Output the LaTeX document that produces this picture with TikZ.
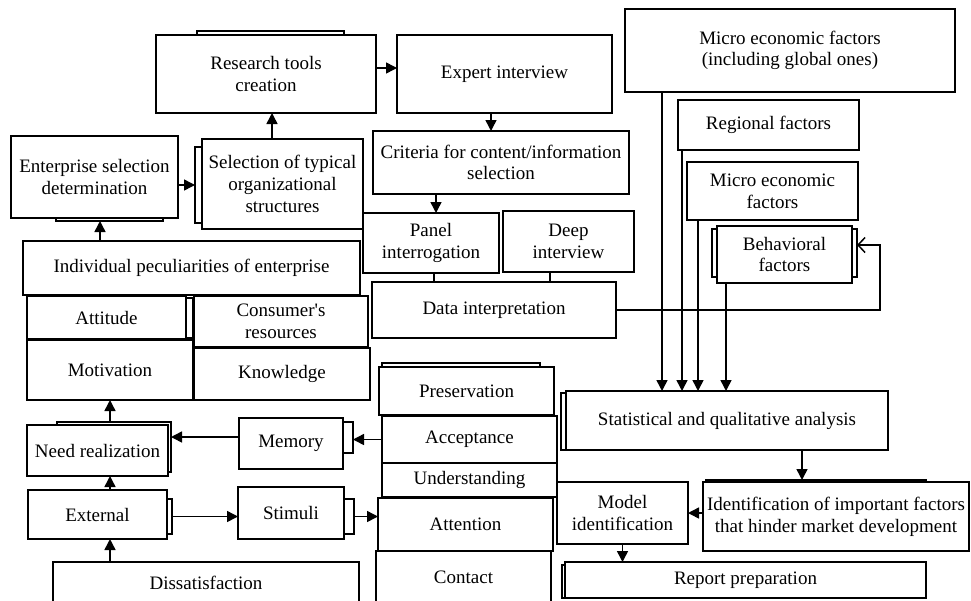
\documentclass[tikz,border=0pt]{standalone}
\usepackage{fontspec}
\setmainfont{Liberation Serif}
\usetikzlibrary{shapes,arrows.meta}
\usetikzlibrary{positioning}

\begin{document}
\begin{tikzpicture}[x=1pt,y=-1pt,
    every node/.style={font=\fontsize{19}{21.7}\selectfont,align=center,inner sep=1pt,outer sep=0pt},
    blk/.style={draw,line width=1.6pt,fill=white},
    bk/.style={draw,line width=1.3pt,fill=white},
    arr/.style={line width=1.5pt,-{Triangle[length=11pt,width=11pt]}},
    lnk/.style={line width=1.5pt}]
    \clip (0,0) rectangle (971,600);
    \fill[white] (0,0) rectangle (971,600);

    % upper left: research design
    \node[bk,minimum width=147,minimum height=14] (researchbk) at (270.5,38) {};
    \node[blk,minimum width=220,minimum height=78] (research) at (266,74) {Research tools\\creation};
    \node[blk,minimum width=215,minimum height=78] (expert) at (504.5,74) {Expert interview};
    \node[bk,minimum width=107,minimum height=16] (entbk) at (109.5,213) {};
    \node[blk,minimum width=167,minimum height=82] (enterprise) at (94.5,177) {Enterprise selection\\determination};
    \node[bk,minimum width=20,minimum height=76] (selbk) at (205,185) {};
    \node[blk,minimum width=161,minimum height=90] (selection) at (282.5,184) {Selection of typical\\organizational\\structures};
    \node[blk,minimum width=337,minimum height=54] (individual) at (191.5,268) {Individual peculiarities of enterprise};
    \node[blk,minimum width=256,minimum height=63] (criteria) at (501,162.5) {Criteria for content/information\\selection};
    \node[blk,minimum width=136,minimum height=60] (panel) at (431,243) {Panel\\interrogation};
    \node[blk,minimum width=131,minimum height=61] (deep) at (568.5,241.5) {Deep\\interview};
    \node[blk,minimum width=244,minimum height=56] (data) at (494,310) {Data interpretation};

    % factors
    \node[blk,minimum width=330,minimum height=83] (microglobal) at (790,50.5) {Micro economic factors\\(including global ones)};
    \node[blk,minimum width=181,minimum height=50] (regional) at (768.5,125) {Regional factors};
    \node[blk,minimum width=171,minimum height=58] (microeco) at (772.5,191) {Micro economic\\factors};
    \node[bk,minimum width=145,minimum height=48] (behbk) at (784.5,253) {};
    \node[blk,minimum width=135,minimum height=57] (behavioral) at (784.5,254.5) {Behavioral\\factors};
    \node[bk,minimum width=14,minimum height=57] (statbk) at (568,421.5) {};
    \node[blk,minimum width=322,minimum height=59] (statistical) at (727,420.5) {Statistical and qualitative analysis};
    \node[bk,minimum width=220,minimum height=15] (identbk) at (816,487.5) {};
    \node[blk,minimum width=266,minimum height=69] (identification) at (836,516.5) {Identification of important factors\\that hinder market development};
    \node[blk,minimum width=131,minimum height=62] (model) at (622.5,513) {Model\\identification};
    \node[bk,minimum width=13,minimum height=33] (reportbk) at (568.5,581.5) {};
    \node[blk,minimum width=361,minimum height=36] (report) at (745.5,580) {Report preparation};

    % consumer side
    \node[bk,minimum width=13,minimum height=40] (attbk) at (186.5,318) {};
    \node[blk,minimum width=159,minimum height=43] (attitude) at (106.5,317.5) {Attitude};
    \node[blk,minimum width=174,minimum height=51] (consumer) at (281,321.5) {Consumer\textquotesingle s\\resources};
    \node[blk,minimum width=166,minimum height=60] (motivation) at (110,370) {Motivation};
    \node[blk,minimum width=176,minimum height=52] (knowledge) at (282,374) {Knowledge};
    \node[bk,minimum width=114,minimum height=50] (needbk) at (114,447) {};
    \node[blk,minimum width=141,minimum height=51] (need) at (97.5,450.5) {Need realization};
    \node[bk,minimum width=18,minimum height=31] (memorybk) at (344,437.5) {};
    \node[blk,minimum width=104,minimum height=51] (memory) at (291,443.5) {Memory};
    \node[bk,minimum width=12,minimum height=35] (extbk) at (166,516.5) {};
    \node[blk,minimum width=139,minimum height=49] (external) at (97.5,514.5) {External};
    \node[bk,minimum width=19,minimum height=35] (stimbk) at (344.5,516.5) {};
    \node[blk,minimum width=106,minimum height=52] (stimuli) at (291,513) {Stimuli};
    \node[blk,minimum width=306,minimum height=42] (diss) at (206,583) {Dissatisfaction};

    % stack of stages
    \node[bk,minimum width=158,minimum height=12] (presbk) at (461,369) {};
    \node[blk,minimum width=175,minimum height=48] (preservation) at (466.5,391) {Preservation};
    \node[blk,minimum width=175,minimum height=47] (acceptance) at (469.5,439.5) {Acceptance};
    \node[blk,minimum width=175,minimum height=34] (understanding) at (469.5,480) {Understanding};
    \node[blk,minimum width=175,minimum height=53] (attention) at (465.5,524.5) {Attention};
    \node[blk,minimum width=175,minimum height=53] (contact) at (463.5,577.5) {Contact};

    % connectors
    \draw[arr] ([yshift=6pt]research.east) -- ([yshift=6pt]research.east -| expert.west);
    \draw[arr] ([xshift=-13.5pt]expert.south) -- ([xshift=-13.5pt]expert.south |- criteria.north);
    \draw[arr] ([xshift=5pt]panel.north |- criteria.south) -- ([xshift=5pt]panel.north);
    \draw[lnk] ([xshift=3pt]panel.south) -- ([xshift=3pt]panel.south |- data.north);
    \draw[lnk] ([xshift=-18.5pt]deep.south) -- ([xshift=-18.5pt]deep.south |- data.north);
    \draw[arr] ([xshift=-10.5pt]selection.north) -- ([xshift=-10.5pt]selection.north |- research.south);
    \draw[arr] ([yshift=-8pt]enterprise.east) -- ([yshift=-8pt]enterprise.east -| selbk.west);
    \draw[arr] ([xshift=-9.5pt]entbk.south |- individual.north) -- ([xshift=-9.5pt]entbk.south);

    \draw[arr] ([xshift=-128pt]microglobal.south) -- ([xshift=-128pt]microglobal.south |- statistical.north);
    \draw[arr] ([xshift=-86.5pt]regional.south) -- ([xshift=-86.5pt]regional.south |- statistical.north);
    \draw[arr] ([xshift=-74.5pt]microeco.south) -- ([xshift=-74.5pt]microeco.south |- statistical.north);
    \draw[arr] ([xshift=-58.5pt]behavioral.south) -- ([xshift=-58.5pt]behavioral.south |- statistical.north);
    \draw[line width=1.5pt,-{Straight Barb[length=7pt,width=15pt]}] (data.east) -| ([xshift=23pt,yshift=8pt]behbk.east) -- ([yshift=8pt]behbk.east);
    \draw[arr] ([xshift=75pt]statistical.south) -- ([xshift=75pt]statistical.south |- identbk.north);
    \draw[arr] (identification.west |- model.east) -- (model.east);
    \draw[arr] (model.south) -- (model.south |- report.north);

    \draw[arr] (motivation.south |- needbk.north) -- (motivation.south);
    \draw[arr] ([yshift=6.5pt]memory.west) -- ([yshift=6.5pt]memory.west -| needbk.east);
    \draw[arr] (acceptance.west) -- (acceptance.west -| memorybk.east);
    \draw[arr] ([xshift=12.5pt]external.north) -- ([xshift=12.5pt]external.north |- need.south);
    \draw[arr] ([xshift=12.5pt]external.south |- diss.north) -- ([xshift=12.5pt]external.south);
    \draw[arr] (extbk.east) -- (extbk.east -| stimuli.west);
    \draw[arr] (stimbk.east) -- (stimbk.east -| attention.west);
\end{tikzpicture}
\end{document}
